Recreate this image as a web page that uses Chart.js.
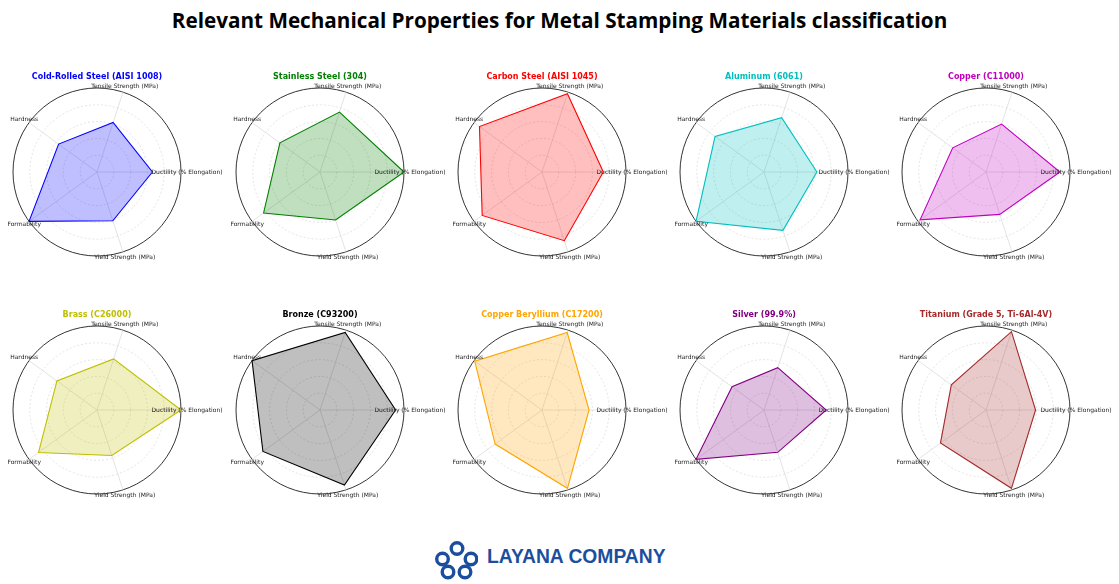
<!DOCTYPE html>
<html>
<head>
<meta charset="utf-8">
<script src="https://cdn.jsdelivr.net/npm/chart.js@4.4.0/dist/chart.umd.min.js"></script>
<style>
  body { margin: 0; background: #fff; }
  #page { position: relative; width: 1119px; height: 584px; overflow: hidden; }
  #title { position: absolute; left: 0; top: 6px; width: 1119px; text-align: center;
    font: bold 20.7px "Open Sans", "Noto Sans", sans-serif; color: #000; }
  canvas { position: absolute; }
  #logo { position: absolute; left: 434px; top: 540px; }
  #logoText { position: absolute; left: 487px; top: 546px;
    font: bold 19.3px "Liberation Sans", Arial, sans-serif; color: #1b4f9e; }
</style>
</head>
<body>
<div id="page">
  <div id="title">Relevant Mechanical Properties for Metal Stamping Materials classification</div>
  <svg id="logo" width="44" height="44" viewBox="0 0 44 44">
    <g fill="none" stroke="#1b4f9e" stroke-width="3.4">
      <circle cx="23" cy="8.5" r="5.8"/>
      <circle cx="8.5" cy="19" r="5.8"/>
      <circle cx="37" cy="19" r="5.8"/>
      <circle cx="14" cy="32" r="5.8"/>
      <circle cx="31" cy="32" r="5.8"/>
    </g>
  </svg>
  <div id="logoText">LAYANA COMPANY</div>
</div>
<script>
// axes, clockwise from the right (matplotlib order is counter-clockwise from 0 deg)
var axisLabels = ['Ductility (% Elongation)', 'Yield Strength (MPa)', 'Formability', 'Hardness', 'Tensile Strength (MPa)']

var materials = [
  'Cold-Rolled Steel (AISI 1008)', 'Stainless Steel (304)', 'Carbon Steel (AISI 1045)', 'Aluminum (6061)', 'Copper (C11000)',
  'Brass (C26000)', 'Bronze (C93200)', 'Copper Beryllium (C17200)', 'Silver (99.9%)', 'Titanium (Grade 5, Ti-6Al-4V)'
]
var colors = ['#0000ff', '#008000', '#ff0000', '#00bfbf', '#bf00bf', '#bfbf00', '#000000', '#ffa500', '#800080', '#a52a2a']

// normalized values (fraction of each subplot's outer ring)
var ductility   = [0.66, 1.00, 0.73, 0.63, 0.88, 1.00, 0.90, 0.56, 0.74, 0.59]
var yieldStr    = [0.61, 0.60, 0.86, 0.73, 0.53, 0.57, 0.94, 0.98, 0.53, 0.98]
var formability = [1.00, 0.83, 0.88, 1.00, 0.97, 0.86, 0.84, 0.69, 1.00, 0.67]
var hardness    = [0.565, 0.59, 0.92, 0.72, 0.49, 0.59, 1.00, 0.99, 0.47, 0.51]
var tensile     = [0.62, 0.75, 0.98, 0.68, 0.60, 0.64, 0.97, 0.97, 0.53, 0.98]

var colX = [97, 320, 542, 764, 986]
var rowY = [172, 410]

function hexToRgba(hex, a) {
  var n = parseInt(hex.slice(1), 16)
  return 'rgba(' + (n >> 16) + ',' + ((n >> 8) & 255) + ',' + (n & 255) + ',' + a + ')'
}

// draws the centered axis labels and the subplot title, like matplotlib does
var labelPlugin = {
  id: 'mplLabels',
  afterDraw: function(chart) {
    var scale = chart.scales.r
    var ctx = chart.ctx
    ctx.save()
    ctx.font = '6px "DejaVu Sans"'
    ctx.fillStyle = '#222'
    ctx.textAlign = 'center'
    ctx.textBaseline = 'middle'
    for (var i = 0; i < axisLabels.length; i++) {
      var p = scale.getPointPosition(i, scale.drawingArea + 6)
      ctx.fillText(axisLabels[i], p.x, p.y)
    }
    var opts = chart.options.plugins.mplLabels
    ctx.font = 'bold 8px "DejaVu Sans"'
    ctx.fillStyle = opts.color
    ctx.fillText(opts.title, scale.xCenter, scale.yCenter - scale.drawingArea - 11)
    ctx.restore()
  }
}

var page = document.getElementById('page')
materials.forEach(function(name, k) {
  var cx = colX[k % 5], cy = rowY[Math.floor(k / 5)]
  var canvas = document.createElement('canvas')
  canvas.width = 260
  canvas.height = 230
  canvas.style.left = (cx - 130) + 'px'
  canvas.style.top = (cy - 115) + 'px'
  page.appendChild(canvas)

  new Chart(canvas, {
    type: 'radar',
    data: {
      labels: axisLabels,
      datasets: [{
        data: [ductility[k], yieldStr[k], formability[k], hardness[k], tensile[k]],
        borderColor: colors[k],
        backgroundColor: hexToRgba(colors[k], 0.25),
        borderWidth: 1.1,
        pointRadius: 0,
        fill: true
      }]
    },
    options: {
      responsive: false,
      animation: false,
      devicePixelRatio: 1,
      layout: { padding: { left: 46, right: 46, top: 31, bottom: 31 } },
      plugins: {
        legend: { display: false },
        tooltip: { enabled: false },
        mplLabels: { title: name, color: colors[k] }
      },
      scales: {
        r: {
          min: 0,
          max: 1,
          startAngle: 90,
          ticks: { display: false, stepSize: 0.2 },
          pointLabels: { display: false },
          angleLines: { color: '#dcdcdc', lineWidth: 0.8 },
          grid: {
            circular: true,
            color: function(c) { return c.tick && c.tick.value > 0.999 ? '#000' : '#d8d8d8' },
            lineWidth: function(c) { return c.tick && c.tick.value > 0.999 ? 0.8 : 0.7 }
          },
          border: {
            dash: function(c) { return c.tick && c.tick.value > 0.999 ? [] : [2, 2] }
          }
        }
      }
    },
    plugins: [labelPlugin]
  })
})
</script>
</body>
</html>
